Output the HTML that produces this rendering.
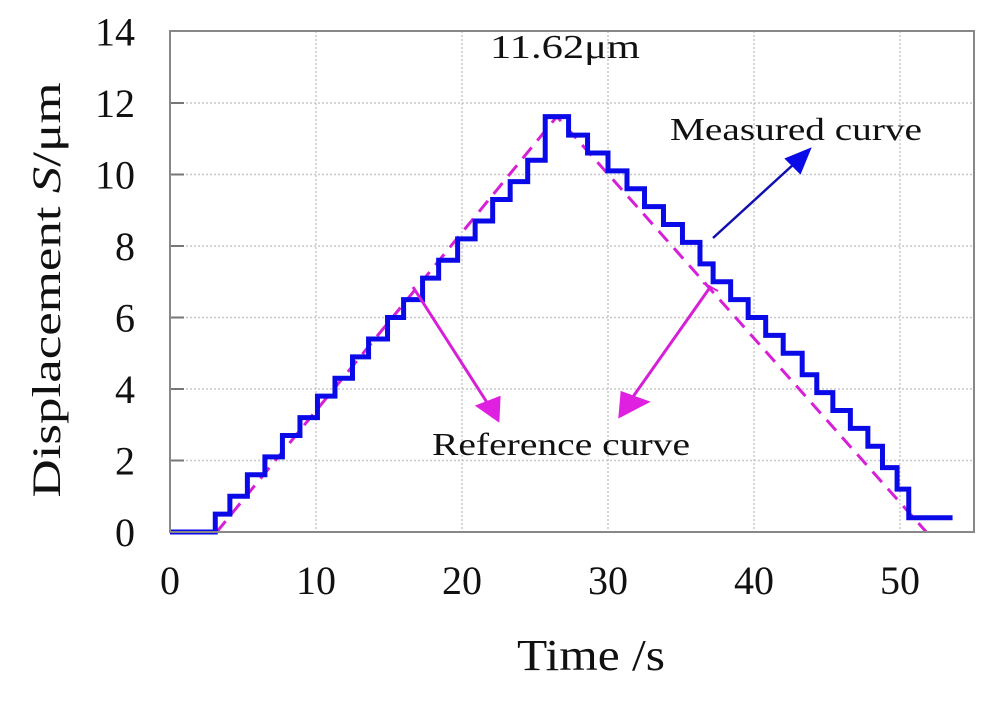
<!DOCTYPE html>
<html><head><meta charset="utf-8"><style>
html,body{margin:0;padding:0;background:#fff}
svg text{font-family:"Liberation Serif",serif;fill:#111}
</style></head><body>
<svg id="chart" width="1000" height="702" viewBox="0 0 1000 702" xmlns="http://www.w3.org/2000/svg">
<g id="grid"></g>
<g id="series"></g>
<g id="axes"></g>
<g id="notes"></g>
</svg>
<script>
const xTicks=[0,10,20,30,40,50];
const yTicks=[0,2,4,6,8,10,12,14];
const measuredTimes=[0,3.1,4.1,5.3,6.5,7.7,8.9,10.1,11.3,12.5,13.6,14.9,16.0,17.3,18.4,19.7,20.9,22.1,23.3,24.5,25.7,27.3,28.6,30.0,31.3,32.5,33.8,35.1,36.3,37.2,38.4,39.6,40.8,42.0,43.3,44.3,45.4,46.6,47.8,48.8,49.8,50.6,53.6];
const measuredLevels=[0,0.5,1.0,1.6,2.1,2.7,3.2,3.8,4.3,4.9,5.4,6.0,6.5,7.1,7.6,8.2,8.7,9.3,9.8,10.4,11.62,11.1,10.6,10.1,9.6,9.1,8.6,8.1,7.5,7.0,6.5,6.0,5.5,5.0,4.4,3.9,3.4,2.9,2.4,1.8,1.2,0.4,0.4];
const referenceTimes=[3.2,26.5,51.8];
const referenceValues=[0,11.62,0];

const NS='http://www.w3.org/2000/svg';
const L=170,R=974,T=31,B=532;
const X=v=>L+v*14.6;
const Y=v=>B-v*35.75;
function mk(tag,attrs,parent,txt){const e=document.createElementNS(NS,tag);for(const k in attrs)e.setAttribute(k,attrs[k]);if(txt!==undefined)e.textContent=txt;document.getElementById(parent).appendChild(e);return e;}

xTicks.forEach(v=>{
  if(v>0){const g=mk('line',{x1:X(v),x2:X(v),y1:T,y2:B,stroke:'#c8c8c8','stroke-width':1.5,'stroke-dasharray':'2 2'},'grid');
  
  }
  const t=mk('text',{x:X(v),y:594,'font-size':40,'text-anchor':'middle'},'axes',String(v));
  
  
});
yTicks.forEach(v=>{
  if(v>0&&v<14){const g=mk('line',{x1:L,x2:R,y1:Y(v),y2:Y(v),stroke:'#c8c8c8','stroke-width':1.5,'stroke-dasharray':'2 2'},'grid');
  
  
  const tk=mk('line',{x1:L,x2:L+14,y1:Y(v),y2:Y(v),stroke:'#777','stroke-width':2},'grid');
  
  }
  const t=mk('text',{x:135,y:Y(v)+14,'font-size':40,'text-anchor':'end'},'axes',String(v));
  
  
});
const frame=mk('rect',{x:L,y:T,width:R-L,height:B-T,fill:'none',stroke:'#888','stroke-width':2},'axes');



let rp=referenceTimes.map((t,i)=>X(t)+','+Y(referenceValues[i])).join(' ');
const ref=mk('polyline',{points:rp,fill:'none',stroke:'#d61fd6','stroke-width':3,'stroke-dasharray':'14 9'},'series');



let mp=[];
for(let i=0;i<measuredTimes.length;i++){
  if(i>0) mp.push(X(measuredTimes[i])+','+Y(measuredLevels[i-1]));
  mp.push(X(measuredTimes[i])+','+Y(measuredLevels[i]));
}
const meas=mk('polyline',{points:mp.join(' '),fill:'none',stroke:'#0a0ae8','stroke-width':5,'stroke-linejoin':'miter'},'series');


</script>
<script>
(function(){
const n=document.getElementById('notes');
n.innerHTML=`
<text transform="translate(60,290) rotate(-90)" font-size="40" text-anchor="middle" textLength="415" lengthAdjust="spacingAndGlyphs">Displacement <tspan font-style="italic">S</tspan>/μm</text>
<text x="591" y="670" font-size="44" text-anchor="middle" textLength="148" lengthAdjust="spacingAndGlyphs">Time /s</text>
<text x="565" y="58" font-size="34" text-anchor="middle" textLength="150" lengthAdjust="spacingAndGlyphs">11.62μm</text>
<text x="796" y="140" font-size="32" text-anchor="middle" textLength="252" lengthAdjust="spacingAndGlyphs">Measured curve</text>
<text x="561" y="455" font-size="32" text-anchor="middle" textLength="258" lengthAdjust="spacingAndGlyphs">Reference curve</text>
<g>
<line x1="713" y1="238" x2="795" y2="163" stroke="#1010b0" stroke-width="2.5"/>
<polygon points="809,150 787,159 800,172" fill="#0a0ae8" stroke="#0a0ae8" stroke-width="3"/>
</g>
<g>
<line x1="413" y1="287" x2="488" y2="404" stroke="#d61fd6" stroke-width="3"/>
<polygon points="498,420 478,406 499,398" fill="#e020e0" stroke="#e020e0" stroke-width="3"/>
</g>
<g>
<line x1="711" y1="286" x2="630" y2="401" stroke="#d61fd6" stroke-width="3"/>
<line x1="703" y1="283" x2="718" y2="291" stroke="#d61fd6" stroke-width="2"/>
<polygon points="620,416 622,393 647,402" fill="#e020e0" stroke="#e020e0" stroke-width="3"/>
</g>`;
})();
</script>
</body></html>
